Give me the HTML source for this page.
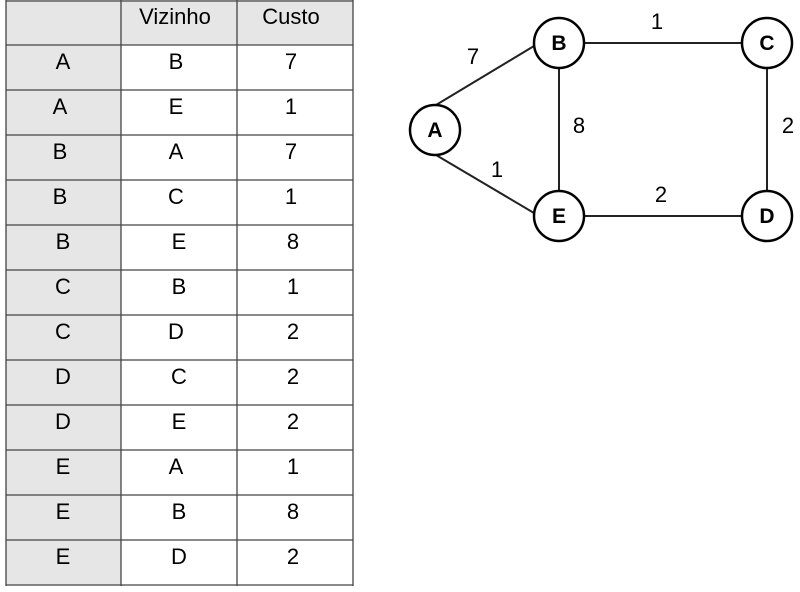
<!DOCTYPE html>
<html><head><style>
body{margin:0;width:800px;height:592px;background:#fff;overflow:hidden}
</style></head><body>
<svg width="800" height="592" style="position:absolute;left:0;top:0" font-family="Liberation Sans, sans-serif">
<rect x="6" y="0" width="115" height="585" fill="#e6e6e6"/>
<rect x="121" y="0" width="232" height="45" fill="#e6e6e6"/>
<g stroke="#444" stroke-width="1.3">
<line x1="6" y1="0" x2="6" y2="586"/><line x1="121" y1="0" x2="121" y2="586"/>
<line x1="237" y1="0" x2="237" y2="586"/><line x1="353" y1="0" x2="353" y2="586"/>
<line x1="6" y1="1" x2="353" y2="1"/>
<line x1="6" y1="45" x2="353" y2="45"/><line x1="6" y1="90" x2="353" y2="90"/>
<line x1="6" y1="135" x2="353" y2="135"/><line x1="6" y1="180" x2="353" y2="180"/>
<line x1="6" y1="225" x2="353" y2="225"/><line x1="6" y1="270" x2="353" y2="270"/>
<line x1="6" y1="315" x2="353" y2="315"/><line x1="6" y1="360" x2="353" y2="360"/>
<line x1="6" y1="405" x2="353" y2="405"/><line x1="6" y1="450" x2="353" y2="450"/>
<line x1="6" y1="495" x2="353" y2="495"/><line x1="6" y1="540" x2="353" y2="540"/>
<line x1="6" y1="585" x2="353" y2="585"/>
</g>
<g font-size="22" text-anchor="middle" fill="#000">
<text x="175" y="24">Vizinho</text><text x="291" y="24">Custo</text>
<text x="63" y="69">A</text><text x="176" y="69">B</text><text x="291" y="69">7</text>
<text x="60" y="114">A</text><text x="176" y="114">E</text><text x="291" y="114">1</text>
<text x="60" y="159">B</text><text x="176" y="159">A</text><text x="291" y="159">7</text>
<text x="60" y="204">B</text><text x="176" y="204">C</text><text x="291" y="204">1</text>
<text x="63" y="249">B</text><text x="179" y="249">E</text><text x="293" y="249">8</text>
<text x="63" y="294">C</text><text x="179" y="294">B</text><text x="293" y="294">1</text>
<text x="63" y="339">C</text><text x="176" y="339">D</text><text x="293" y="339">2</text>
<text x="63" y="384">D</text><text x="179" y="384">C</text><text x="293" y="384">2</text>
<text x="63" y="429">D</text><text x="179" y="429">E</text><text x="293" y="429">2</text>
<text x="63" y="474">E</text><text x="176" y="474">A</text><text x="293" y="474">1</text>
<text x="63" y="519">E</text><text x="179" y="519">B</text><text x="293" y="519">8</text>
<text x="63" y="564">E</text><text x="179" y="564">D</text><text x="293" y="564">2</text>
</g>
<g stroke="#222" stroke-width="2">
<line x1="436" y1="105" x2="534" y2="46"/>
<line x1="436" y1="155" x2="534" y2="213"/>
<line x1="584" y1="43" x2="742" y2="43"/>
<line x1="559" y1="68" x2="559" y2="191"/>
<line x1="767" y1="68" x2="767" y2="191"/>
<line x1="584" y1="216" x2="742" y2="216"/>
</g>
<g fill="#fff" stroke="#000" stroke-width="2.5">
<circle cx="435" cy="130" r="25"/><circle cx="559" cy="43" r="25"/><circle cx="767" cy="43" r="25"/>
<circle cx="559" cy="216" r="25"/><circle cx="767" cy="216" r="25"/>
</g>
<g font-weight="bold" font-size="21" text-anchor="middle">
<text x="435" y="137">A</text><text x="559" y="50">B</text><text x="767" y="50">C</text>
<text x="559" y="223">E</text><text x="767" y="223">D</text>
</g>
<g font-size="22" text-anchor="middle">
<text x="473" y="64">7</text><text x="657" y="29">1</text><text x="579" y="133">8</text>
<text x="788" y="133">2</text><text x="497" y="177">1</text><text x="661" y="202">2</text>
</g>
</svg>
</body></html>
